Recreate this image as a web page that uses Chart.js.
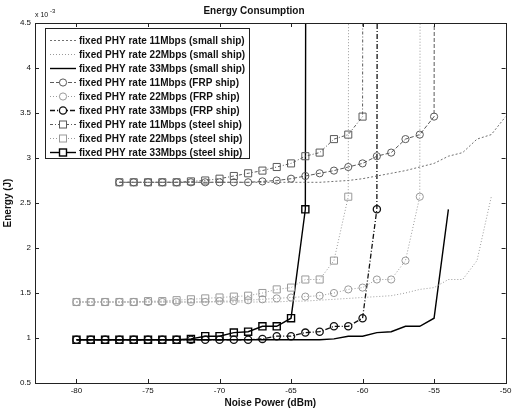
<!DOCTYPE html>
<html>
<head>
<meta charset="utf-8">
<script src="https://cdn.jsdelivr.net/npm/chart.js@4.4.0/dist/chart.umd.min.js"></script>
<style>
html, body { margin: 0; padding: 0; background: #fff; }
</style>
</head>
<body>
<canvas id="energyChart" width="512" height="411"></canvas>
<script>
// noise power in dBm, one step per simulation run
const noiseFrom80 = [-80,-79,-78,-77,-76,-75,-74,-73,-72,-71,-70,-69,-68,-67,-66,-65,-64,-63,-62,-61,-60,-59,-58,-57,-56,-55,-54,-53,-52,-51,-50];
const noiseFrom77 = [-77,-76,-75,-74,-73,-72,-71,-70,-69,-68,-67,-66,-65,-64,-63,-62,-61,-60,-59,-58,-57,-56,-55,-54,-53,-52,-51,-50];

// energy in units of 1e-3 J (100 = link broken, goes off the top)
const small11 = [2.73,2.73,2.73,2.73,2.73,2.73,2.73,2.73,2.73,2.73,2.73,2.73,2.73,2.73,2.73,2.74,2.75,2.77,2.80,2.83,2.86,2.90,2.94,3.02,3.06,3.21,3.26,3.46];
const small22 = [1.40,1.40,1.40,1.40,1.40,1.40,1.40,1.40,1.40,1.40,1.40,1.40,1.40,1.40,1.40,1.41,1.41,1.42,1.43,1.44,1.45,1.46,1.47,1.50,1.54,1.56,1.65,1.65,1.86,2.57];
const small33 = [0.98,0.98,0.98,0.98,0.98,0.98,0.98,0.98,0.98,0.98,0.98,0.98,0.98,0.98,0.98,0.98,0.98,0.98,0.99,1.02,1.02,1.06,1.07,1.13,1.13,1.22,2.43];
const frp11 = [2.73,2.73,2.73,2.73,2.73,2.73,2.73,2.73,2.73,2.73,2.74,2.75,2.77,2.80,2.83,2.86,2.90,2.94,3.02,3.06,3.21,3.26,3.46,100];
const frp22 = [1.40,1.40,1.40,1.40,1.40,1.40,1.40,1.40,1.40,1.40,1.41,1.41,1.42,1.43,1.44,1.45,1.46,1.47,1.50,1.54,1.56,1.65,1.65,1.86,2.57,100];
const frp33 = [0.98,0.98,0.98,0.98,0.98,0.98,0.98,0.98,0.98,0.98,0.98,0.98,0.98,0.99,1.02,1.02,1.06,1.07,1.13,1.13,1.22,2.43,100];
const steel11 = [2.73,2.73,2.73,2.73,2.73,2.74,2.75,2.77,2.80,2.83,2.86,2.90,2.94,3.02,3.06,3.21,3.26,3.46,100];
const steel22 = [1.40,1.40,1.40,1.40,1.40,1.41,1.41,1.42,1.43,1.44,1.45,1.46,1.47,1.50,1.54,1.56,1.65,1.65,1.86,2.57,100];
const steel33 = [0.98,0.98,0.98,0.98,0.98,0.98,0.98,0.98,0.99,1.02,1.02,1.06,1.07,1.13,1.13,1.22,2.43,100];

const xTicks = [-80,-75,-70,-65,-60,-55,-50];
const yTicks = [0.5,1,1.5,2,2.5,3,3.5,4,4.5];

function pts(xs, ys) {
    return ys.map((v, i) => ({x: xs[i], y: v}));
}

//one entry per curve, same order as the legend
const series = [
    {label: 'fixed PHY rate 11Mbps (small ship)', data: pts(noiseFrom77, small11), color: '#707070', dash: [2,2], width: 1, marker: false},
    {label: 'fixed PHY rate 22Mbps (small ship)', data: pts(noiseFrom80, small22), color: '#9a9a9a', dash: [1,2], width: 1, marker: false},
    {label: 'fixed PHY rate 33Mbps (small ship)', data: pts(noiseFrom80, small33), color: '#000', dash: [], width: 1.4, marker: false},
    {label: 'fixed PHY rate 11Mbps (FRP ship)', data: pts(noiseFrom77, frp11), color: '#5a5a5a', dash: [4,2], width: 1, marker: 'circle'},
    {label: 'fixed PHY rate 22Mbps (FRP ship)', data: pts(noiseFrom80, frp22), color: '#9a9a9a', dash: [1,2], width: 1, marker: 'circle'},
    {label: 'fixed PHY rate 33Mbps (FRP ship)', data: pts(noiseFrom80, frp33), color: '#111', dash: [5,2,1,2], width: 1.3, marker: 'circle'},
    {label: 'fixed PHY rate 11Mbps (steel ship)', data: pts(noiseFrom77, steel11), color: '#5a5a5a', dash: [3,2,1,2], width: 1, marker: 'rect'},
    {label: 'fixed PHY rate 22Mbps (steel ship)', data: pts(noiseFrom80, steel22), color: '#9a9a9a', dash: [1,2], width: 1, marker: 'rect'},
    {label: 'fixed PHY rate 33Mbps (steel ship)', data: pts(noiseFrom80, steel33), color: '#000', dash: [], width: 1.4, marker: 'rect'}
];

const datasets = series.map(s => ({
    label: s.label,
    data: s.data,
    borderColor: s.color,
    borderDash: s.dash,
    borderWidth: s.width,
    pointStyle: s.marker || 'circle',
    pointRadius: s.marker ? (s.marker === 'rect' ? 5 : 3.6) : 0,
    pointBorderColor: s.color,
    pointBackgroundColor: 'rgba(0,0,0,0)',
    pointBorderWidth: s.width,
    tension: 0,
    fill: false
}));

// matlab style box with inward ticks, exponent label and legend inside the axes
const matlabAxes = {
    id: 'matlabAxes',
    afterDatasetsDraw(chart) {
        const {ctx, chartArea: a, scales: {x, y}} = chart;
        ctx.save();
        ctx.strokeStyle = '#222';
        ctx.lineWidth = 1;
        ctx.setLineDash([]);
        ctx.strokeRect(Math.round(a.left) + 0.5, Math.round(a.top) + 0.5, Math.round(a.right - a.left), Math.round(a.bottom - a.top));
        const tl = 4;
        ctx.beginPath();
        xTicks.forEach(v => {
            const px = Math.round(x.getPixelForValue(v)) + 0.5;
            ctx.moveTo(px, a.bottom); ctx.lineTo(px, a.bottom - tl);
            ctx.moveTo(px, a.top); ctx.lineTo(px, a.top + tl);
        });
        yTicks.forEach(v => {
            const py = Math.round(y.getPixelForValue(v)) + 0.5;
            ctx.moveTo(a.left, py); ctx.lineTo(a.left + tl, py);
            ctx.moveTo(a.right, py); ctx.lineTo(a.right - tl, py);
        });
        ctx.stroke();

        // exponent
        ctx.fillStyle = '#111';
        ctx.textBaseline = 'alphabetic';
        ctx.textAlign = 'left';
        ctx.font = '7px "Liberation Sans", Arial, sans-serif';
        ctx.fillText('x 10', a.left, a.top - 6);
        ctx.font = '6px "Liberation Sans", Arial, sans-serif';
        ctx.fillText('-3', a.left + 15, a.top - 10);

        // legend
        const lx = 45, ly = 28, lw = 204, lh = 130;
        ctx.fillStyle = '#fff';
        ctx.fillRect(lx, ly, lw, lh);
        ctx.strokeStyle = '#222';
        ctx.strokeRect(lx + 0.5, ly + 0.5, lw, lh);
        ctx.font = 'bold 10px "Liberation Sans", Arial, sans-serif';
        ctx.textBaseline = 'middle';
        series.forEach((s, i) => {
            const cy = 40 + i * 14;
            ctx.strokeStyle = s.color;
            ctx.lineWidth = s.width;
            ctx.setLineDash(s.dash);
            ctx.beginPath();
            ctx.moveTo(50, cy + 0.5);
            ctx.lineTo(76, cy + 0.5);
            ctx.stroke();
            ctx.setLineDash([]);
            if (s.marker === 'circle') {
                ctx.beginPath();
                ctx.arc(63, cy + 0.5, 3.6, 0, Math.PI * 2);
                ctx.fillStyle = '#fff';
                ctx.fill();
                ctx.stroke();
            } else if (s.marker === 'rect') {
                ctx.fillStyle = '#fff';
                ctx.fillRect(59.5, cy - 3, 7, 7);
                ctx.strokeRect(59.5, cy - 3, 7, 7);
            }
            ctx.fillStyle = '#111';
            ctx.fillText(s.label, 79, cy + 1);
        });
        ctx.restore();
    }
};

new Chart(document.getElementById('energyChart'), {
    type: 'line',
    data: {datasets: datasets},
    plugins: [matlabAxes],
    options: {
        responsive: false,
        animation: false,
        layout: {padding: {left: 0, right: 4, top: 0, bottom: 0}},
        plugins: {
            legend: {display: false},
            tooltip: {enabled: false},
            title: {
                display: true,
                text: 'Energy Consumption',
                color: '#111',
                font: {family: '"Liberation Sans", Arial, sans-serif', size: 10, weight: 'bold'},
                padding: {top: 5, bottom: 6}
            }
        },
        scales: {
            x: {
                type: 'linear',
                min: -82.9,
                max: -50,
                grid: {display: false, drawTicks: false},
                border: {display: false},
                afterBuildTicks: s => { s.ticks = xTicks.map(v => ({value: v})); },
                afterFit: s => { s.height = 28; s.paddingLeft = 0; s.paddingRight = 0; },
                ticks: {
                    color: '#111',
                    padding: 3,
                    font: {family: '"Liberation Sans", Arial, sans-serif', size: 8},
                    callback: v => String(v)
                },
                title: {
                    display: true,
                    text: 'Noise Power (dBm)',
                    color: '#111',
                    font: {family: '"Liberation Sans", Arial, sans-serif', size: 10, weight: 'bold'},
                    padding: {top: 0, bottom: 2}
                }
            },
            y: {
                min: 0.5,
                max: 4.5,
                grid: {display: false, drawTicks: false},
                border: {display: false},
                afterBuildTicks: s => { s.ticks = yTicks.map(v => ({value: v})); },
                afterFit: s => { s.width = 35; s.paddingTop = 0; s.paddingBottom = 0; },
                ticks: {
                    color: '#111',
                    padding: 4,
                    font: {family: '"Liberation Sans", Arial, sans-serif', size: 8},
                    callback: v => String(v)
                },
                title: {
                    display: true,
                    text: 'Energy (J)',
                    color: '#111',
                    font: {family: '"Liberation Sans", Arial, sans-serif', size: 10, weight: 'bold'},
                    padding: {top: 2, bottom: 0}
                }
            }
        }
    }
});
</script>
</body>
</html>
